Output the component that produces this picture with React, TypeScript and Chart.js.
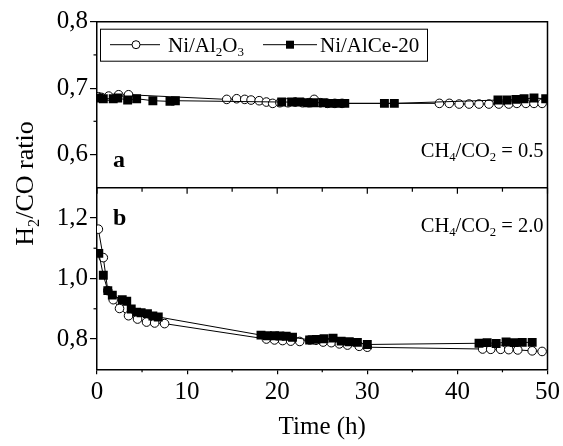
import React, { useEffect, useRef } from 'react';
import { Chart, registerables } from 'chart.js';

Chart.register(...registerables);

const FONT = '"Liberation Serif", "Times New Roman", serif';

// ---- axes ----
const X_MIN = 0;
const X_MAX = 50;
const X_MAJOR = [0, 10, 20, 30, 40, 50];
const X_MINOR = [5, 15, 25, 35, 45];
const TOP_MIN = 0.55;
const TOP_MAX = 0.8;
const TOP_TICKS = [0.6, 0.7, 0.8];
const TOP_MINOR = [0.65, 0.75];
const BOT_MIN = 0.7;
const BOT_MAX = 1.3;
const BOT_TICKS = [0.8, 1.0, 1.2];
const BOT_MINOR = [0.9, 1.1];

// ---- panel a: CH4/CO2 = 0.5 ----
const aAlTime = [0.15, 0.5, 1.3, 2.4, 3.5, 14.4, 15.5, 16.4, 17.1, 18.0, 18.8, 19.5, 20.3, 21.2, 22.0, 22.8, 23.5, 24.1, 24.8, 25.6, 26.4, 27.2, 38.0, 39.1, 40.2, 41.3, 42.4, 43.5, 44.6, 45.7, 46.6, 47.6, 48.5, 49.4];
const aAlRatio = [0.687, 0.686, 0.688, 0.690, 0.690, 0.683, 0.684, 0.683, 0.682, 0.681, 0.679, 0.677, 0.678, 0.678, 0.679, 0.678, 0.678, 0.683, 0.678, 0.677, 0.677, 0.677, 0.677, 0.677, 0.676, 0.676, 0.676, 0.676, 0.676, 0.676, 0.677, 0.677, 0.677, 0.677];
const aCeTime = [0.2, 0.7, 1.8, 2.3, 3.4, 4.4, 6.2, 8.1, 8.7, 20.5, 21.6, 22.5, 23.4, 24.1, 25.1, 25.8, 26.7, 27.5, 31.9, 33.0, 44.5, 45.5, 46.5, 47.4, 48.5, 49.8];
const aCeRatio = [0.685, 0.684, 0.684, 0.685, 0.682, 0.684, 0.681, 0.680, 0.681, 0.679, 0.679, 0.679, 0.678, 0.678, 0.678, 0.677, 0.677, 0.677, 0.677, 0.677, 0.682, 0.682, 0.683, 0.684, 0.685, 0.684];

// ---- panel b: CH4/CO2 = 2.0 ----
const bAlTime = [0.15, 0.7, 1.2, 1.8, 2.5, 3.5, 4.5, 5.5, 6.4, 7.5, 18.8, 19.7, 20.6, 21.5, 22.5, 23.6, 24.3, 25.1, 26.0, 26.9, 27.8, 29.1, 30.0, 42.8, 43.7, 44.8, 45.7, 46.7, 48.3, 49.4];
const bAlRatio = [1.163, 1.069, 0.96, 0.930, 0.901, 0.877, 0.866, 0.856, 0.853, 0.851, 0.800, 0.797, 0.795, 0.793, 0.792, 0.797, 0.796, 0.790, 0.788, 0.784, 0.780, 0.776, 0.773, 0.767, 0.766, 0.766, 0.765, 0.764, 0.761, 0.759];
const bCeTime = [0.2, 0.7, 1.2, 1.7, 2.8, 3.3, 3.8, 4.4, 4.9, 5.6, 6.2, 6.8, 18.2, 18.9, 19.7, 20.3, 21.0, 21.7, 23.6, 24.3, 25.2, 26.2, 27.1, 28.0, 28.9, 30.0, 42.4, 43.3, 44.3, 45.4, 46.3, 47.2, 48.3];
const bCeRatio = [1.083, 1.011, 0.960, 0.945, 0.930, 0.925, 0.899, 0.889, 0.887, 0.884, 0.876, 0.873, 0.813, 0.811, 0.811, 0.810, 0.809, 0.806, 0.797, 0.799, 0.801, 0.803, 0.793, 0.791, 0.789, 0.782, 0.786, 0.788, 0.785, 0.790, 0.788, 0.789, 0.789];

const SERIES_AL = 'Ni/Al2O3';
const SERIES_CE = 'Ni/AlCe-20';

type Part = { t: string; sub?: boolean };
const LEGEND_AL: Part[] = [{ t: 'Ni/Al' }, { t: '2', sub: true }, { t: 'O' }, { t: '3', sub: true }];
const LEGEND_CE: Part[] = [{ t: 'Ni/AlCe-20' }];
const NOTE_A: Part[] = [{ t: 'CH' }, { t: '4', sub: true }, { t: '/CO' }, { t: '2', sub: true }, { t: ' = 0.5' }];
const NOTE_B: Part[] = [{ t: 'CH' }, { t: '4', sub: true }, { t: '/CO' }, { t: '2', sub: true }, { t: ' = 2.0' }];
const Y_TITLE: Part[] = [{ t: 'H' }, { t: '2', sub: true }, { t: '/CO ratio' }];
const X_TITLE = 'Time (h)';

const zip = (xs: number[], ys: number[]) => xs.map((x, i) => ({ x, y: ys[i] }));

function drawRich(ctx: CanvasRenderingContext2D, parts: Part[], x: number, y: number, size: number, align: 'left' | 'right' | 'center', weight = 'normal') {
  const sub = size * 0.62;
  ctx.textBaseline = 'alphabetic';
  ctx.textAlign = 'left';
  let w = 0;
  for (const p of parts) {
    ctx.font = `${weight} ${p.sub ? sub : size}px ${FONT}`;
    w += ctx.measureText(p.t).width;
  }
  let cx = align === 'left' ? x : align === 'right' ? x - w : x - w / 2;
  for (const p of parts) {
    ctx.font = `${weight} ${p.sub ? sub : size}px ${FONT}`;
    ctx.fillText(p.t, cx, y + (p.sub ? size * 0.22 : 0));
    cx += ctx.measureText(p.t).width;
  }
}

const overlay = {
  id: 'overlay',
  afterDraw(chart: any) {
    const { ctx, chartArea: ca, scales } = chart;
    const x = scales.x;
    const yT = scales.yTop;
    const yB = scales.yBot;
    const div = yT.bottom;
    ctx.save();
    ctx.strokeStyle = '#000';
    ctx.fillStyle = '#000';
    ctx.lineWidth = 1.5;
    ctx.beginPath();
    ctx.moveTo(ca.left, ca.top);
    ctx.lineTo(ca.right, ca.top);
    ctx.lineTo(ca.right, ca.bottom);
    ctx.moveTo(ca.left, div);
    ctx.lineTo(ca.right, div);
    ctx.stroke();

    const seg = (x1: number, y1: number, x2: number, y2: number) => {
      ctx.beginPath();
      ctx.moveTo(x1, y1);
      ctx.lineTo(x2, y2);
      ctx.stroke();
    };
    ctx.lineWidth = 1.2;
    for (const v of X_MAJOR) {
      const px = x.getPixelForValue(v);
      seg(px, div, px, div + 6);
    }
    for (const v of X_MINOR) {
      const px = x.getPixelForValue(v);
      seg(px, div, px, div + 4);
      seg(px, ca.bottom, px, ca.bottom + 3);
    }
    for (const v of TOP_MINOR) {
      const py = yT.getPixelForValue(v);
      seg(ca.left - 3.5, py, ca.left, py);
    }
    for (const v of BOT_MINOR) {
      const py = yB.getPixelForValue(v);
      seg(ca.left - 3.5, py, ca.left, py);
    }

    // legend box
    const lx = ca.left + 3;
    const ly = ca.top + 7;
    const lw = 327;
    const lh = 32;
    ctx.fillStyle = '#fff';
    ctx.fillRect(lx, ly, lw, lh);
    ctx.lineWidth = 1;
    ctx.strokeStyle = '#000';
    ctx.strokeRect(lx + 0.5, ly + 0.5, lw, lh);
    const cy = ly + lh / 2;
    ctx.lineWidth = 1;
    seg(lx + 10, cy, lx + 60, cy);
    ctx.beginPath();
    ctx.arc(lx + 36, cy, 4, 0, Math.PI * 2);
    ctx.fillStyle = '#fff';
    ctx.fill();
    ctx.stroke();
    ctx.fillStyle = '#000';
    drawRich(ctx, LEGEND_AL, lx + 68, cy + 7, 21, 'left');
    seg(lx + 163, cy, lx + 217, cy);
    ctx.fillRect(lx + 190 - 4, cy - 4, 8, 8);
    drawRich(ctx, LEGEND_CE, lx + 220, cy + 7, 21, 'left');

    // panel labels
    drawRich(ctx, [{ t: 'a' }], ca.left + 16, div - 21, 24, 'left', 'bold');
    drawRich(ctx, [{ t: 'b' }], ca.left + 16, yB.top + 37, 24, 'left', 'bold');
    drawRich(ctx, NOTE_A, ca.right - 4, div - 31, 20.5, 'right');
    drawRich(ctx, NOTE_B, ca.right - 4, yB.top + 44, 20.5, 'right');

    // y title
    ctx.save();
    ctx.translate(33, (ca.top + ca.bottom) / 2 - 12);
    ctx.rotate(-Math.PI / 2);
    drawRich(ctx, Y_TITLE, 0, 0, 26, 'center');
    ctx.restore();
    ctx.restore();
  },
};

export default function App() {
  const ref = useRef<HTMLCanvasElement | null>(null);
  useEffect(() => {
    if (!ref.current) return;
    const tickFont = { family: FONT, size: 25 };
    const fmt = (v: any) => Number(v).toFixed(1).replace('.', ',');
    const yBase = (min: number, max: number, ticks: number[]) => ({
      type: 'linear' as const,
      position: 'left' as const,
      stack: 'ratio',
      min,
      max,
      afterBuildTicks: (s: any) => {
        s.ticks = ticks.map((value) => ({ value }));
      },
      afterFit: (s: any) => {
        s.width = 97;
      },
      grid: { display: true, drawOnChartArea: false, drawTicks: true, tickLength: 7, color: '#000', lineWidth: 1.2 },
      border: { display: true, color: '#000', width: 1.5 },
      ticks: { color: '#000', font: tickFont, padding: 2, callback: fmt },
    });
    const chart = new Chart(ref.current, {
      type: 'line',
      data: {
        datasets: [
          {
            label: SERIES_CE, data: zip(aCeTime, aCeRatio), yAxisID: 'yTop',
            borderColor: '#000', borderWidth: 1, pointStyle: 'rect', pointRadius: 6.3,
            pointBackgroundColor: '#000', pointBorderColor: '#000', pointBorderWidth: 0, tension: 0,
          },
          {
            label: SERIES_CE, data: zip(bCeTime, bCeRatio), yAxisID: 'yBot',
            borderColor: '#000', borderWidth: 1, pointStyle: 'rect', pointRadius: 6.3,
            pointBackgroundColor: '#000', pointBorderColor: '#000', pointBorderWidth: 0, tension: 0,
          },
          {
            label: SERIES_AL, data: zip(aAlTime, aAlRatio), yAxisID: 'yTop',
            borderColor: '#000', borderWidth: 1, pointStyle: 'circle', pointRadius: 4.3,
            pointBackgroundColor: '#fff', pointBorderColor: '#000', pointBorderWidth: 1, tension: 0,
          },
          {
            label: SERIES_AL, data: zip(bAlTime, bAlRatio), yAxisID: 'yBot',
            borderColor: '#000', borderWidth: 1, pointStyle: 'circle', pointRadius: 4.3,
            pointBackgroundColor: '#fff', pointBorderColor: '#000', pointBorderWidth: 1, tension: 0,
          },
        ],
      },
      options: {
        responsive: false,
        animation: false,
        events: [],
        layout: { padding: { top: 21.7, right: 14, left: 0, bottom: 0 } },
        plugins: { legend: { display: false }, tooltip: { enabled: false } },
        scales: {
          x: {
            type: 'linear',
            min: X_MIN,
            max: X_MAX,
            afterBuildTicks: (s: any) => {
              s.ticks = X_MAJOR.map((value) => ({ value }));
            },
            afterFit: (s: any) => {
              s.height = 76.7;
            },
            grid: { display: true, drawOnChartArea: false, drawTicks: true, tickLength: 5, color: '#000', lineWidth: 1.2 },
            border: { display: true, color: '#000', width: 1.5 },
            ticks: { color: '#000', font: tickFont, padding: 3, maxRotation: 0 },
            title: { display: true, text: X_TITLE, color: '#000', font: { family: FONT, size: 25 }, padding: { top: 0, bottom: 4 } },
          },
          yBot: { ...yBase(BOT_MIN, BOT_MAX, BOT_TICKS), stackWeight: 181.6 },
          yTop: { ...yBase(TOP_MIN, TOP_MAX, TOP_TICKS), stackWeight: 166 },
        },
      } as any,
      plugins: [overlay],
    });
    return () => chart.destroy();
  }, []);
  return (
    <div style={{ position: 'fixed', left: 0, top: 0, width: 563, height: 446, background: '#fff' }}>
      <canvas ref={ref} width={563} height={446} style={{ display: 'block' }} />
    </div>
  );
}
